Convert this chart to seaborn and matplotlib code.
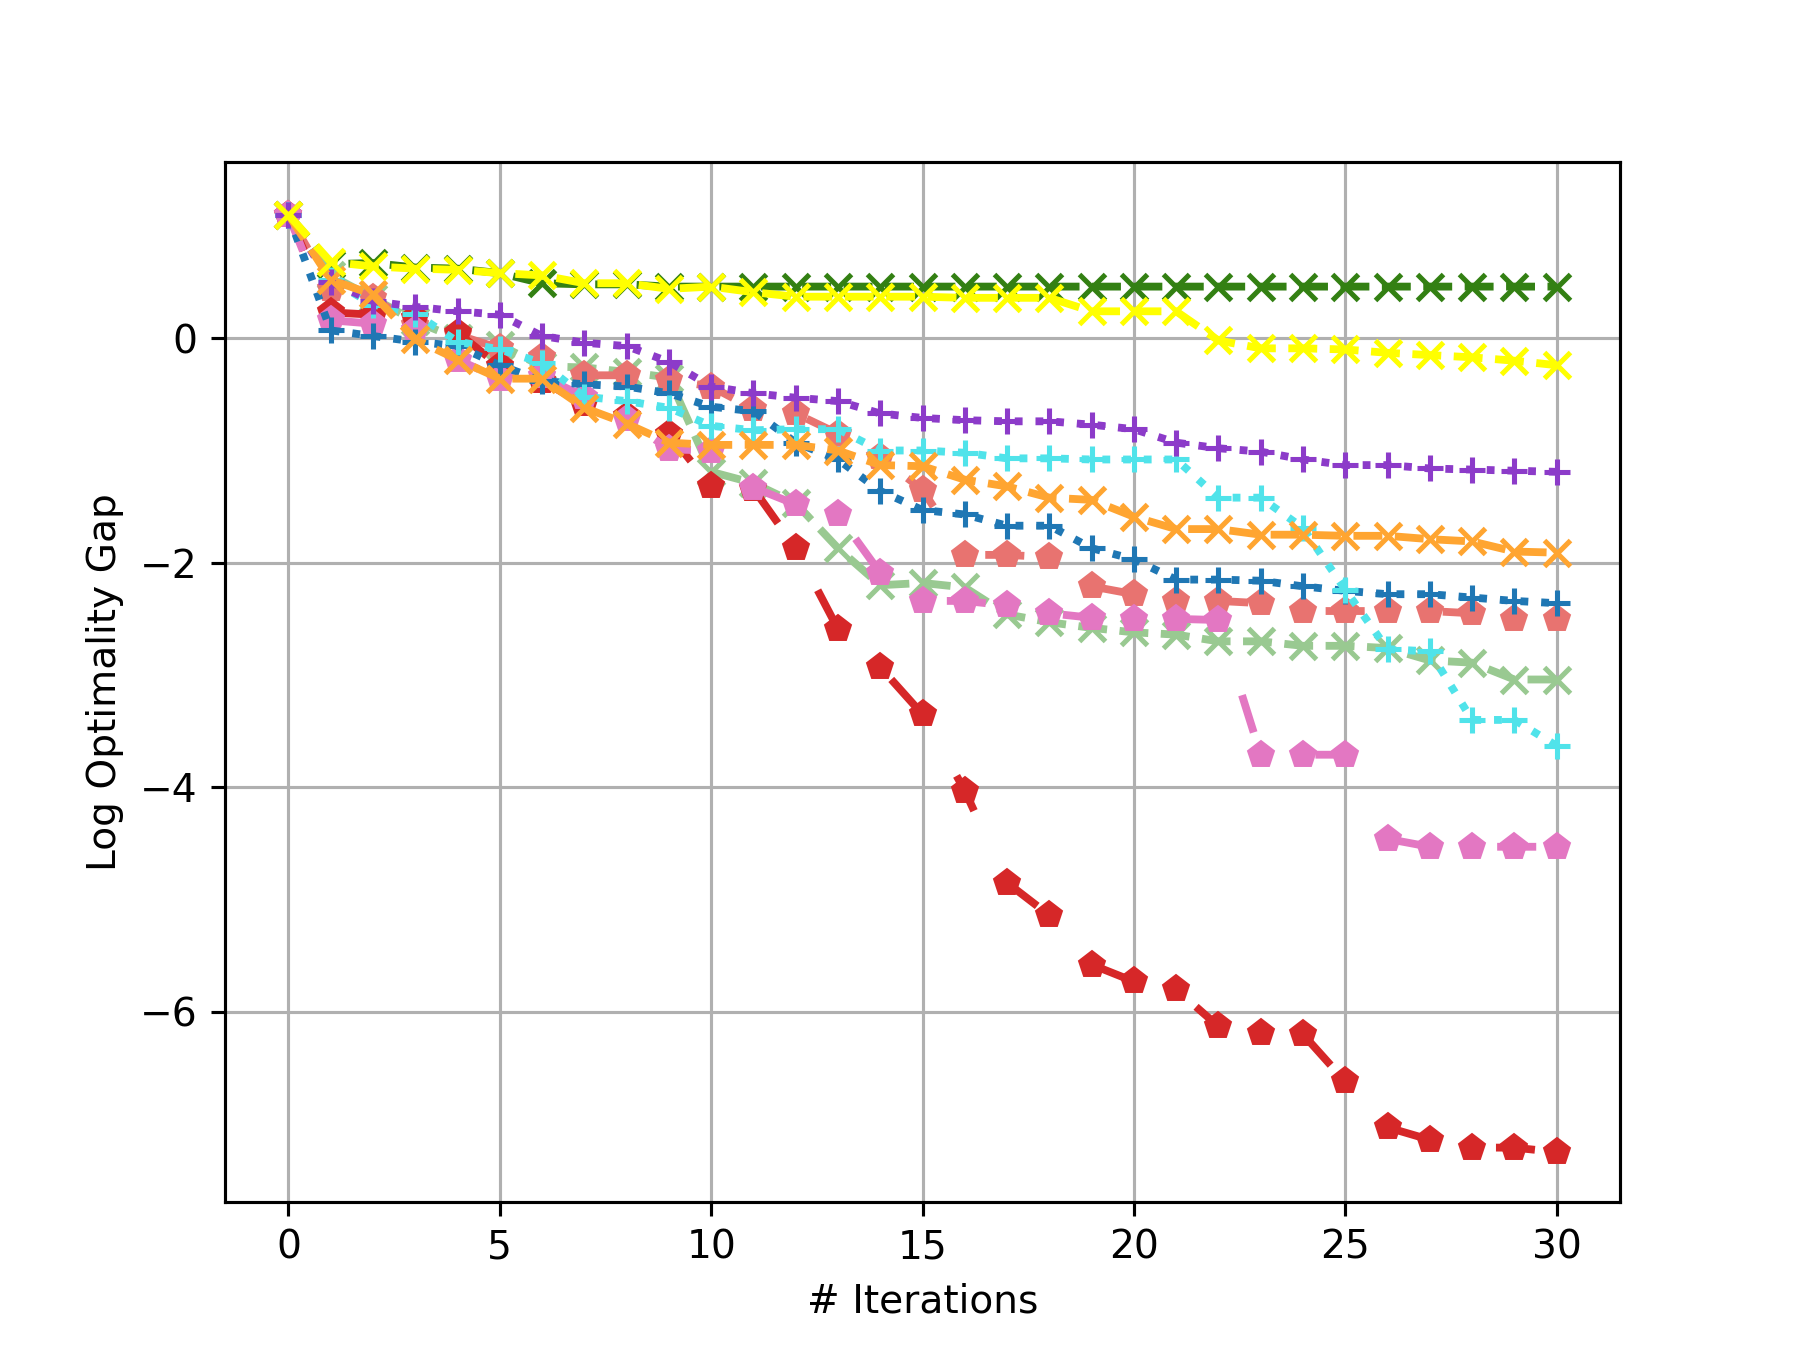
import numpy as np
import pandas as pd
import seaborn as sns
import matplotlib
matplotlib.use("Agg")
import matplotlib.pyplot as plt

# values
iterations = list(range(31))

dark_green = [1.10, 0.66, 0.67, 0.63, 0.62, 0.58, 0.49, 0.48, 0.48, 0.46, 0.46,
              0.46, 0.46, 0.46, 0.46, 0.46, 0.46, 0.46, 0.46, 0.46, 0.46,
              0.46, 0.46, 0.46, 0.46, 0.46, 0.46, 0.46, 0.46, 0.46, 0.46]
light_green = [1.10, 0.56, 0.36, 0.15, 0.00, -0.06, -0.25, -0.26, -0.30, -0.35, -1.19,
               -1.29, -1.47, -1.87, -2.20, -2.18, -2.22, -2.46, -2.53, -2.58, -2.62,
               -2.64, -2.70, -2.70, -2.74, -2.74, -2.76, -2.87, -2.89, -3.04, -3.04]
salmon = [1.10, 0.44, 0.36, 0.12, 0.03, -0.09, -0.17, -0.33, -0.33, -0.37, -0.43,
          -0.63, -0.67, -0.85, -1.06, -1.35, -1.93, -1.93, -1.95, -2.21, -2.28,
          -2.34, -2.34, -2.36, -2.43, -2.43, -2.43, -2.43, -2.45, -2.50, -2.50]
red = [1.10, 0.23, 0.21, 0.18, 0.05, -0.25, -0.38, -0.59, -0.69, -0.85, -1.32,
       -1.34, -1.87, -2.59, -2.93, -3.35, -4.03, -4.85, -5.14, -5.58, -5.73,
       -5.80, -6.13, -6.19, -6.20, -6.62, -7.03, -7.14, -7.21, -7.21, -7.25]
pink = [1.10, 0.16, 0.13, 0.07, -0.19, -0.36, -0.34, -0.52, -0.72, -0.99, -1.00,
        -1.33, -1.48, -1.57, -2.09, -2.34, -2.34, -2.38, -2.45, -2.49, -2.50,
        -2.50, -2.51, -3.71, -3.71, -3.71, -4.46, -4.53, -4.53, -4.53, -4.53]
blue = [1.10, 0.07, 0.02, -0.03, -0.07, -0.24, -0.38, -0.41, -0.43, -0.49, -0.61,
        -0.65, -0.93, -1.08, -1.36, -1.53, -1.57, -1.67, -1.67, -1.87, -1.97,
        -2.15, -2.15, -2.16, -2.21, -2.25, -2.28, -2.28, -2.31, -2.34, -2.36]
cyan = [1.10, 0.52, 0.30, 0.22, -0.03, -0.10, -0.22, -0.52, -0.56, -0.62, -0.78,
        -0.82, -0.81, -0.81, -1.00, -1.00, -1.02, -1.07, -1.07, -1.08, -1.08,
        -1.08, -1.42, -1.42, -1.69, -2.24, -2.77, -2.79, -3.40, -3.40, -3.63]
purple = [1.10, 0.50, 0.33, 0.28, 0.24, 0.21, 0.02, -0.04, -0.07, -0.21, -0.43,
          -0.49, -0.53, -0.56, -0.67, -0.71, -0.73, -0.74, -0.74, -0.77, -0.81,
          -0.93, -0.98, -1.01, -1.08, -1.13, -1.13, -1.16, -1.17, -1.18, -1.19]
orange = [1.10, 0.52, 0.39, -0.01, -0.19, -0.36, -0.36, -0.62, -0.76, -0.93, -0.95,
          -0.95, -0.95, -1.00, -1.13, -1.14, -1.26, -1.32, -1.42, -1.44, -1.59,
          -1.70, -1.70, -1.75, -1.75, -1.76, -1.76, -1.79, -1.81, -1.90, -1.91]
yellow = [1.10, 0.68, 0.64, 0.62, 0.61, 0.58, 0.56, 0.49, 0.49, 0.44, 0.46,
          0.41, 0.37, 0.37, 0.37, 0.37, 0.36, 0.36, 0.36, 0.24, 0.24,
          0.24, -0.02, -0.09, -0.09, -0.10, -0.13, -0.15, -0.17, -0.20, -0.24]

loose = (0, (5, 10))
series = [
    (dark_green, "#338013", "x", "--"),
    (light_green, "#99c991", "x", "--"),
    (salmon, "#e87370", "p", loose),
    (red, "#d62728", "p", loose),
    (pink, "#e377c2", "p", loose),
    (blue, "#1f77b4", "+", ":"),
    (cyan, "#50e3ea", "+", ":"),
    (purple, "#8c3bc9", "+", ":"),
    (orange, "#ffa531", "x", "--"),
    (yellow, "#ffff00", "x", "--"),
]

fig, ax = plt.subplots(figsize=(6.4, 4.8), dpi=281.25)
for vals, col, mk, ls in series:
    df = pd.DataFrame({"it": iterations, "gap": vals})
    if mk == "p":
        msize, medge = 7, 0.5
    else:
        msize, medge = 6.5, 1.3
    sns.lineplot(data=df, x="it", y="gap", ax=ax, color=col, marker=mk,
                 linestyle=ls, lw=2, mec=col, mfc=col,
                 mew=medge, ms=msize, legend=False)

ax.set_xlim(-1.5, 31.5)
ax.set_ylim(-7.69, 1.57)
ax.set_xticks([0, 5, 10, 15, 20, 25, 30])
ax.grid(True)
ax.set_xlabel("# Iterations")
ax.set_ylabel("Log Optimality Gap")
plt.savefig("out.png", dpi=281.25)
